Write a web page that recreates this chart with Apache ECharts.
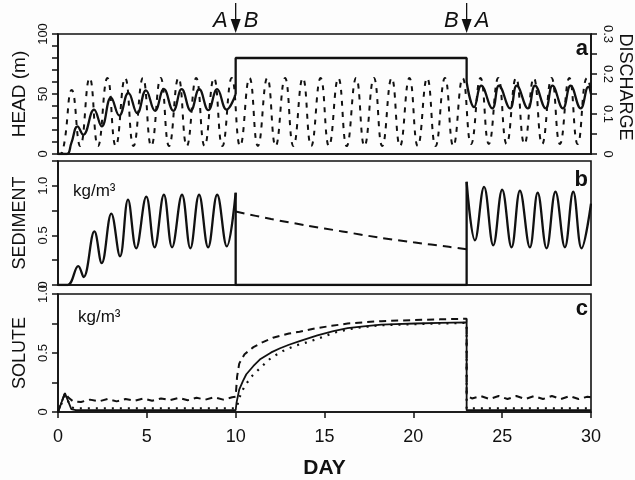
<!DOCTYPE html>
<html><head><meta charset="utf-8">
<script src="https://cdn.jsdelivr.net/npm/echarts@6/dist/echarts.min.js"></script>
<style>html,body{margin:0;padding:0;background:#fdfdfd}#c{width:635px;height:480px}</style>
</head><body><div id="c"></div>
<script>
// ---------- DATA ----------
// Panel a: head (m), solid line
const headDays1 = [0, 0.5, 0.75, 1.1, 1.42, 2.03, 2.46, 2.98, 3.45, 3.96, 4.46, 4.95, 5.46, 5.96, 6.49, 6.96, 7.47, 7.95, 8.46, 8.96, 9.49, 10];
const headVals1 = [0, 0, 9, 23, 16, 37, 23, 47, 32, 51, 34, 53, 36, 54, 36, 54, 36, 54, 36.5, 54, 37, 50];
const headStepDays = [10, 10, 23, 23];
const headStepVals = [50, 80, 80, 60];
const headDays3 = [23, 23.42, 23.82, 24.45, 24.82, 25.45, 25.82, 26.45, 26.85, 27.45, 27.83, 28.42, 28.85, 29.42, 29.85, 30];
const headVals3 = [60, 39, 57, 38, 57, 38, 57, 38, 57, 38, 57, 38, 57, 38, 56, 50];
// Panel a: discharge, dashed line (right axis)
const dischargeDays = [0, 0.25, 0.78, 1.25, 1.78, 2.25, 2.78, 3.25, 3.78, 4.25, 4.78, 5.25, 5.78, 6.25, 6.78, 7.25, 7.78, 8.25, 8.78, 9.25, 9.78, 10.25, 10.78, 11.25, 11.78, 12.25, 12.78, 13.25, 13.78, 14.25, 14.78, 15.25, 15.78, 16.25, 16.78, 17.25, 17.78, 18.25, 18.78, 19.25, 19.78, 20.25, 20.78, 21.25, 21.78, 22.25, 22.78, 23.25, 23.78, 24.25, 24.78, 25.25, 25.78, 26.25, 26.78, 27.25, 27.78, 28.25, 28.78, 29.25, 29.78, 30];
const dischargeVals = [0, 0.005, 0.16, 0.02, 0.19, 0.02, 0.19, 0.02, 0.19, 0.02, 0.19, 0.02, 0.19, 0.02, 0.19, 0.02, 0.19, 0.02, 0.19, 0.02, 0.19, 0.02, 0.19, 0.02, 0.19, 0.02, 0.19, 0.02, 0.19, 0.02, 0.19, 0.02, 0.19, 0.02, 0.19, 0.02, 0.19, 0.02, 0.19, 0.02, 0.19, 0.02, 0.19, 0.02, 0.19, 0.02, 0.19, 0.025, 0.19, 0.025, 0.19, 0.025, 0.19, 0.025, 0.19, 0.025, 0.19, 0.025, 0.19, 0.025, 0.19, 0.16];
// Panel b: sediment (kg/m3)
const sedDays1 = [0, 0.55, 1.14, 1.44, 2.05, 2.46, 3.0, 3.49, 3.94, 4.4, 4.97, 5.44, 5.96, 6.42, 6.98, 7.45, 7.94, 8.45, 8.96, 9.5, 10];
const sedVals1 = [0, 0, 0.19, 0.08, 0.54, 0.22, 0.72, 0.29, 0.86, 0.37, 0.89, 0.38, 0.91, 0.38, 0.91, 0.37, 0.91, 0.38, 0.91, 0.39, 0.93];
const sedStepDays = [10, 10, 23, 23];
const sedStepVals = [0.93, 0, 0, 1.04];
const sedDays3 = [23, 23.47, 23.98, 24.5, 25.0, 25.53, 26.0, 26.56, 27.0, 27.5, 28.0, 28.53, 29.0, 29.47, 30];
const sedVals3 = [1.04, 0.45, 0.99, 0.40, 0.96, 0.38, 0.95, 0.38, 0.93, 0.37, 0.94, 0.38, 0.94, 0.37, 0.82];
const sedDashDays = [10, 12, 14, 16, 18, 20, 22, 23];
const sedDashVals = [0.74, 0.665, 0.60, 0.54, 0.48, 0.43, 0.385, 0.36];
// Panel c: solute (kg/m3)
const solSolidDays = [0, 0.39, 0.75, 1.0, 10.0, 10.05, 10.2, 10.4, 10.6, 11.0, 11.4, 12.0, 12.5, 13.0, 13.6, 14.6, 15.5, 16.3, 17.2, 18.2, 19.0, 20.1, 21.5, 23.0, 23.0, 30];
const solSolidVals = [0, 0.16, 0.025, 0.015, 0.015, 0.08, 0.19, 0.26, 0.32, 0.39, 0.45, 0.505, 0.54, 0.57, 0.60, 0.65, 0.685, 0.71, 0.725, 0.74, 0.745, 0.75, 0.755, 0.76, 0.015, 0.015];
const solDashDays = [0, 0.39, 0.6, 0.85, 1.3, 1.8, 2.3, 2.8, 3.3, 3.8, 4.3, 4.8, 5.3, 5.8, 6.3, 6.8, 7.3, 7.8, 8.3, 8.8, 9.3, 9.8, 10.0, 10.08, 10.2, 10.5, 11.0, 11.5, 12.1, 13.0, 13.6, 14.5, 15.4, 16.3, 17.2, 18.2, 19.2, 20.1, 21.5, 23.0, 23.0, 23.3, 23.8, 24.3, 24.8, 25.3, 25.8, 26.3, 26.8, 27.3, 27.8, 28.3, 28.8, 29.3, 29.8, 30];
const solDashVals = [0, 0.16, 0.12, 0.09, 0.085, 0.105, 0.09, 0.11, 0.09, 0.11, 0.095, 0.115, 0.095, 0.115, 0.1, 0.12, 0.1, 0.12, 0.105, 0.125, 0.105, 0.125, 0.13, 0.3, 0.41, 0.49, 0.55, 0.59, 0.63, 0.665, 0.68, 0.71, 0.73, 0.75, 0.76, 0.77, 0.775, 0.78, 0.785, 0.79, 0.14, 0.115, 0.135, 0.11, 0.135, 0.11, 0.135, 0.11, 0.135, 0.11, 0.135, 0.11, 0.135, 0.11, 0.13, 0.125];
const solDotDays = [0, 0.39, 0.75, 1.0, 10.0, 10.1, 10.2, 10.5, 10.95, 11.5, 12.0, 12.7, 13.3, 14.0, 14.6, 15.5, 16.3, 17.2, 18.2, 19.0, 20.1, 21.5, 23.0, 23.0, 30];
const solDotVals = [0, 0.14, 0.04, 0.03, 0.03, 0.06, 0.12, 0.22, 0.31, 0.39, 0.46, 0.52, 0.56, 0.59, 0.62, 0.67, 0.70, 0.72, 0.735, 0.74, 0.745, 0.75, 0.755, 0.03, 0.03];
// Axis tick labels
const xTicks = [0, 5, 10, 15, 20, 25, 30];
const headLabels = [0, 50, 100];
const dischargeLabels = ['0', '0.1', '0.2', '0.3'];
const concLabels = ['0', '0.5', '1.0'];
const switchDays = [10, 23];
const switchTexts = [['A', 'B'], ['B', 'A']];

// ---------- CHART ----------
const FONT = "'Liberation Sans', Arial, Helvetica, sans-serif";
const INK = '#111';
const pair = (d, v) => d.map((x, i) => [x, v[i]]);
const chart = echarts.init(document.getElementById('c'), null, {renderer: 'canvas'});

const gridBase = {left: 58, right: 44, show: true, borderColor: INK, borderWidth: 1.6,
  backgroundColor: 'transparent', containLabel: false, outerBoundsMode: 'none'};
function xAx(i, show) {
  return {
    type: 'value', gridIndex: i, min: 0, max: 30, interval: 5,
    axisLine: {show: true, lineStyle: {color: INK, width: 1.6}},
    axisTick: {show: show, length: 6, lineStyle: {color: INK, width: 1.5}},
    axisLabel: {show: show, fontSize: 18, color: INK, margin: 16, fontFamily: FONT,
      formatter: v => xTicks.includes(v) ? String(v) : ''},
    splitLine: {show: false},
    name: show ? 'DAY' : '', nameLocation: 'middle', nameGap: 46,
    nameTextStyle: {fontSize: 21, fontWeight: 'bold', color: INK, fontFamily: FONT}
  };
}
function fmtConc(v) {
  const r = Math.round(v * 100);
  if (r % 50 !== 0) return '';
  return concLabels[r / 50] || '';
}
function yAx(i, o) {
  return Object.assign({
    type: 'value', gridIndex: i, position: 'left',
    axisLine: {show: true, lineStyle: {color: INK, width: 1.6}},
    axisTick: {show: true, length: 6, lineStyle: {color: INK, width: 1.5}},
    splitLine: {show: false},
    nameLocation: 'middle',
    nameTextStyle: {fontSize: 18, color: INK, fontFamily: FONT}
  }, o);
}
const solidStyle = {color: INK, width: 2.3};
function ser(x, y, data, style, smooth) {
  return {type: 'line', xAxisIndex: x, yAxisIndex: y, data: data, symbol: 'none', smooth: smooth || false,
    lineStyle: style, silent: true, animation: false, z: 3};
}

const option = {
  backgroundColor: '#fdfdfd',
  animation: false,
  grid: [
    Object.assign({}, gridBase, {top: 34, height: 120}),
    Object.assign({}, gridBase, {top: 161, height: 124}),
    Object.assign({}, gridBase, {top: 294, height: 118})
  ],
  xAxis: [xAx(0, false), xAx(1, false), xAx(2, true)],
  yAxis: [
    yAx(0, {min: 0, max: 100, interval: 10, name: 'HEAD (m)', nameGap: 27,
      nameTextStyle: {fontSize: 19, color: INK, fontFamily: FONT},
      axisLabel: {rotate: 90, fontSize: 13, color: INK, margin: 8, fontFamily: FONT,
        formatter: v => headLabels.includes(v) ? String(v) : ''}}),
    yAx(0, {position: 'right', min: 0, max: 0.3, interval: 0.05, name: '',
      axisLabel: {rotate: -90, fontSize: 13, color: INK, margin: 10, fontFamily: FONT,
        formatter: v => { const r = Math.round(v * 100); return r % 10 === 0 ? dischargeLabels[r / 10] : ''; }}}),
    yAx(1, {min: 0, max: 1.25, interval: 0.25, name: 'SEDIMENT', nameGap: 27,
      axisLabel: {rotate: 90, fontSize: 13, color: INK, margin: 8, fontFamily: FONT, formatter: fmtConc}}),
    yAx(2, {min: 0, max: 1.0, interval: 0.25, name: 'SOLUTE', nameGap: 27,
      axisLabel: {rotate: 90, fontSize: 13, color: INK, margin: 8, fontFamily: FONT, formatter: fmtConc, showMaxLabel: true}})
  ],
  series: [
    ser(0, 0, pair(headDays1, headVals1), solidStyle, 0.45),
    ser(0, 0, pair(headStepDays, headStepVals), solidStyle, false),
    ser(0, 0, pair(headDays3, headVals3), solidStyle, 0.45),
    ser(0, 1, pair(dischargeDays, dischargeVals), {color: INK, width: 2, type: [5, 6]}, 0.5),
    ser(1, 2, pair(sedDays1, sedVals1), solidStyle, 0.4),
    ser(1, 2, pair(sedStepDays, sedStepVals), solidStyle, false),
    ser(1, 2, pair(sedDays3, sedVals3), solidStyle, 0.4),
    ser(1, 2, pair(sedDashDays, sedDashVals), {color: INK, width: 2, type: [9, 6]}, 0.3),
    ser(2, 3, pair(solSolidDays, solSolidVals), {color: INK, width: 1.8}, false),
    ser(2, 3, pair(solDashDays, solDashVals), {color: INK, width: 2, type: [7, 5]}, false),
    ser(2, 3, pair(solDotDays, solDotVals), {color: INK, width: 2.2, type: [2, 6]}, false)
  ]
};
chart.setOption(option);

// ---------- ANNOTATIONS ----------
const g = [];
switchDays.forEach((d, i) => {
  const px = chart.convertToPixel({xAxisIndex: 0}, d);
  g.push({type: 'line', shape: {x1: px, y1: 3, x2: px, y2: 22}, style: {stroke: INK, lineWidth: 1.3}});
  g.push({type: 'polygon', shape: {points: [[px - 5, 19], [px + 5, 19], [px, 33]]}, style: {fill: INK}});
  g.push({type: 'text', x: px - 8, y: 21, style: {text: switchTexts[i][0], font: 'italic 22px ' + FONT, fill: INK, textAlign: 'right', textVerticalAlign: 'middle'}});
  g.push({type: 'text', x: px + 8, y: 21, style: {text: switchTexts[i][1], font: 'italic 22px ' + FONT, fill: INK, textAlign: 'left', textVerticalAlign: 'middle'}});
});
// right-axis title (rotated, reads top to bottom)
g.push({type: 'text', x: 625, y: 87, rotation: -Math.PI / 2,
  style: {text: 'DISCHARGE', font: '18px ' + FONT, fill: INK, textAlign: 'center', textVerticalAlign: 'middle'}});
const panelLetters = [['a', 49], ['b', 180], ['c', 309]];
panelLetters.forEach(p => {
  g.push({type: 'text', x: 588, y: p[1], style: {text: p[0], font: 'bold 22px ' + FONT, fill: INK, textAlign: 'right', textVerticalAlign: 'middle'}});
});
[[73, 191], [78, 317]].forEach(p => {
  g.push({type: 'text', x: p[0], y: p[1], style: {text: 'kg/m\u00B3', font: '17px ' + FONT, fill: INK, textAlign: 'left', textVerticalAlign: 'middle'}});
});
chart.setOption({graphic: g});
</script></body></html>
